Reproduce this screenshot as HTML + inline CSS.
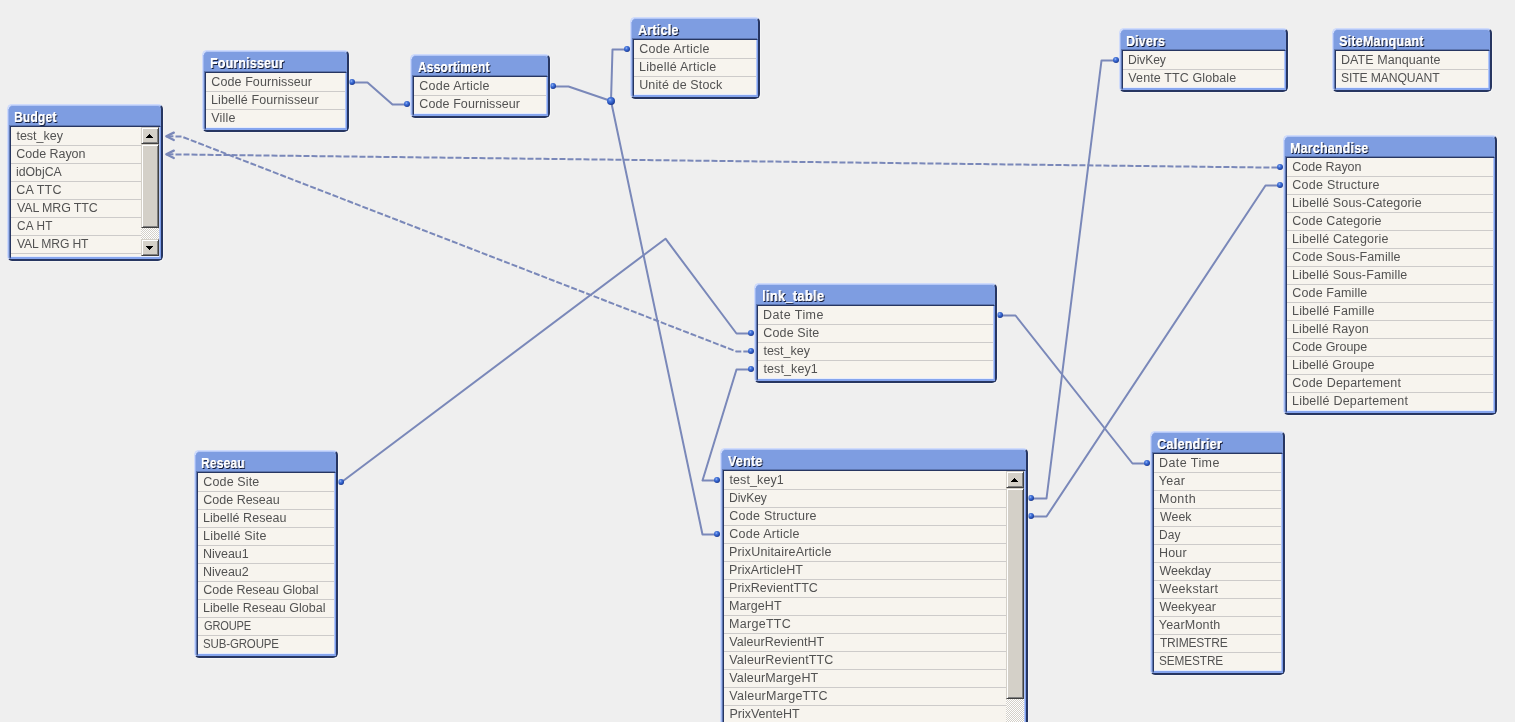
<!DOCTYPE html>
<html><head><meta charset="utf-8"><title>Table Viewer</title>
<style>
html,body{margin:0;padding:0}
html{overflow:hidden;width:1515px;height:722px}
body{width:1515px;height:722px;overflow:hidden;background:#efefef;position:relative;font-family:"Liberation Sans",sans-serif}
.b{position:absolute;box-sizing:border-box;background:#7e9de1;border:2px solid;border-color:#cfdbfb #273661 #273661 #cfdbfb;border-radius:5px;box-shadow:1px 1px 0 rgba(255,255,255,.4)}
.b::before{content:"";position:absolute;left:-1px;top:3px;bottom:1px;width:1px;background:#9fb6ef}
.b::after{content:"";position:absolute;left:2px;top:-1px;right:0;height:1px;background:#b4c7f6}
.t{position:absolute;left:5.5px;top:3.2px;height:16px;line-height:16px;white-space:nowrap;color:#fff;font-weight:bold;font-size:14px;letter-spacing:.3px;text-shadow:.2px 0 0 #fff,1px 1px 0 #141c38,1.3px 1px 0 #141c38;transform:scaleX(.9);transform-origin:0 0;will-change:transform}
.c{position:absolute;left:1px;top:20px;right:0;bottom:0;box-sizing:border-box;border-style:solid;border-width:1px 1px 2px 1px;border-color:#273661 #7c9deb #86a5ee #273661;background:#f7f4ee;overflow:hidden;padding-top:1px;box-shadow:inset -1px 0 0 #b4c7f7,inset 0 -1px 0 #e6ecfc}
.e{position:absolute;left:0;top:19px;right:1px;bottom:1px;border-left:1px solid rgba(39,54,97,.38);border-top:1px solid rgba(39,54,97,.38)}
.r{height:17px;line-height:17px;border-bottom:1px solid #cdcbca;padding-left:5.4px;margin-right:1px;font-size:12.5px;color:#525252;white-space:nowrap;letter-spacing:.1px;will-change:transform}
.r span{display:inline-block;transform-origin:0 50%}
.r:last-child{border-bottom-color:transparent}
.sb{position:absolute;right:1px;top:0;bottom:1px;width:18px;background:#e9e7e3;background-image:conic-gradient(#fff 25%,#d4d0c8 0 50%,#fff 0 75%,#d4d0c8 0);background-size:2px 2px}
.btn{position:absolute;left:0;width:18px;height:17px;box-sizing:border-box;background:#d4d0c8;border:1px solid;border-color:#d4d0c8 #404040 #404040 #d4d0c8;box-shadow:inset 1px 1px 0 #fff,inset -1px -1px 0 #808080}
.btn svg{position:absolute;left:4px;top:6px}
svg{position:absolute;left:0;top:0}
#w{position:absolute;left:0;top:0;width:1515px;height:722px;overflow:hidden;contain:paint}
</style></head><body><div id="w">
<svg width="1515" height="722" viewBox="0 0 1515 722" fill="none" stroke="#7a88b9" stroke-width="2" stroke-linejoin="round">
<defs><radialGradient id="g" cx="38%" cy="34%" r="68%"><stop offset="0" stop-color="#b4cdfc"/><stop offset=".22" stop-color="#5683e2"/><stop offset=".6" stop-color="#2f5ec8"/><stop offset="1" stop-color="#1b378c"/></radialGradient></defs>
<path d="M352 82.5 L367.5 82.5 L392.5 104.5 L407 104.5"/>
<path d="M553 86.5 L568.5 86.5 L611 101"/>
<path d="M611 101 L612.5 49.5 L627 49.5"/>
<path d="M611 101 L702.5 534.5 L717 534.5"/>
<path d="M341 482.5 L665.5 238.7 L736.5 333.5 L751 333.5"/>
<path d="M751 369.5 L736.5 369.5 L702.5 480.5 L717 480.5"/>
<path d="M1000 315.5 L1015.5 315.5 L1132.5 463.5 L1147 463.5"/>
<path d="M1031 498.5 L1046.5 498.5 L1101.5 60.5 L1116 60.5"/>
<path d="M1031 516.5 L1046.5 516.5 L1265.5 185.5 L1280 185.5"/>
<path d="M175.5 136.5 L181.5 136.5 L736.5 351.5 L751 351.5" stroke-dasharray="6 2"/>
<path d="M175.5 154.5 L181.5 154.5 L1265.5 167.5 L1280 167.5" stroke-dasharray="6 2"/>
<path d="M173.8 132.6 L166.3 136.3 L173.8 140" stroke-width="2.3" stroke-linejoin="round" stroke-linecap="round"/>
<path d="M166 136.3 L173.4 136.3" stroke-width="2"/>
<path d="M173.8 150.6 L166.3 154.3 L173.8 158" stroke-width="2.3" stroke-linejoin="round" stroke-linecap="round"/>
<path d="M166 154.3 L173.4 154.3" stroke-width="2"/>
<circle cx="352" cy="82" r="3" fill="url(#g)" stroke="none"/>
<circle cx="407" cy="104" r="3" fill="url(#g)" stroke="none"/>
<circle cx="553" cy="86" r="3" fill="url(#g)" stroke="none"/>
<circle cx="627" cy="49" r="3" fill="url(#g)" stroke="none"/>
<circle cx="717" cy="534" r="3" fill="url(#g)" stroke="none"/>
<circle cx="341" cy="482" r="3" fill="url(#g)" stroke="none"/>
<circle cx="751" cy="333" r="3" fill="url(#g)" stroke="none"/>
<circle cx="751" cy="369" r="3" fill="url(#g)" stroke="none"/>
<circle cx="717" cy="480" r="3" fill="url(#g)" stroke="none"/>
<circle cx="1000" cy="315" r="3" fill="url(#g)" stroke="none"/>
<circle cx="1147" cy="463" r="3" fill="url(#g)" stroke="none"/>
<circle cx="1031" cy="498" r="3" fill="url(#g)" stroke="none"/>
<circle cx="1116" cy="60" r="3" fill="url(#g)" stroke="none"/>
<circle cx="1031" cy="516" r="3" fill="url(#g)" stroke="none"/>
<circle cx="1280" cy="185" r="3" fill="url(#g)" stroke="none"/>
<circle cx="751" cy="351" r="3" fill="url(#g)" stroke="none"/>
<circle cx="1280" cy="167" r="3" fill="url(#g)" stroke="none"/>
<circle cx="611" cy="101" r="4" fill="url(#g)" stroke="none"/>
</svg>
<div class="b" style="left:7px;top:104px;width:156px;height:157px"><div class="t" style="left:5px;transform:scaleX(0.8514)">Budget</div><div class="e"></div><div class="c">
<div class="r"><span style="letter-spacing:-0.015px;margin-left:0.09px">test_key</span></div>
<div class="r"><span style="letter-spacing:-0.04px;margin-left:-0.04px">Code Rayon</span></div>
<div class="r"><span style="letter-spacing:-0.002px;margin-left:-0.48px;transform:scaleX(0.982)">idObjCA</span></div>
<div class="r"><span style="letter-spacing:0.168px;margin-left:-0.04px">CA TTC</span></div>
<div class="r"><span style="letter-spacing:-0.132px;margin-left:0.24px;transform:scaleX(0.995)">VAL MRG TTC</span></div>
<div class="r"><span style="letter-spacing:0.196px;margin-left:0.12px;transform:scaleX(0.944)">CA HT</span></div>
<div class="r"><span style="letter-spacing:-0.161px;margin-left:0.24px;transform:scaleX(0.972)">VAL MRG HT</span></div>
<div class="r">&nbsp;</div>
<div class="sb"><div class="btn up" style="top:0"><svg width="7" height="4" shape-rendering="crispEdges"><path fill="#000" stroke="none" d="M3 0h1v1h1v1h1v1h1v1h-7v-1h1v-1h1v-1h1z"/></svg></div><div class="btn" style="top:17px;height:84px"></div>
<div class="btn dn" style="top:112px"><svg width="7" height="4" shape-rendering="crispEdges"><path fill="#000" stroke="none" d="M0 0h7v1h-1v1h-1v1h-1v1h-1v-1h-1v-1h-1v-1h-1z"/></svg></div>
</div>
</div></div>
<div class="b" style="left:202px;top:50px;width:147px;height:82px"><div class="t" style="left:5.7px;transform:scaleX(0.8774)">Fournisseur</div><div class="e"></div><div class="c">
<div class="r"><span style="letter-spacing:0.083px;margin-left:-0.04px">Code Fournisseur</span></div>
<div class="r"><span style="letter-spacing:0.108px;margin-left:-0.4px">Libellé Fournisseur</span></div>
<div class="r"><span style="letter-spacing:0.196px;margin-left:-0.08px">Ville</span></div>
</div></div>
<div class="b" style="left:410px;top:54px;width:140px;height:64px"><div class="t" style="left:6.2px;transform:scaleX(0.8435)">Assortiment</div><div class="e"></div><div class="c">
<div class="r"><span style="letter-spacing:0.235px;margin-left:-0.04px">Code Article</span></div>
<div class="r"><span style="letter-spacing:0.083px;margin-left:-0.04px">Code Fournisseur</span></div>
</div></div>
<div class="b" style="left:630px;top:17px;width:130px;height:82px"><div class="t" style="left:5.7px;transform:scaleX(0.8877)">Article</div><div class="e"></div><div class="c">
<div class="r"><span style="letter-spacing:0.235px;margin-left:-0.04px">Code Article</span></div>
<div class="r"><span style="letter-spacing:0.259px;margin-left:-0.4px">Libellé Article</span></div>
<div class="r"><span style="letter-spacing:0.129px;margin-left:-0.24px">Unité de Stock</span></div>
</div></div>
<div class="b" style="left:1119px;top:28px;width:169px;height:64px"><div class="t" style="left:5px;transform:scaleX(0.8747)">Divers</div><div class="e"></div><div class="c">
<div class="r"><span style="letter-spacing:-0.127px;margin-left:-0.48px;transform:scaleX(0.972)">DivKey</span></div>
<div class="r"><span style="letter-spacing:0.111px;margin-left:-0.08px">Vente TTC Globale</span></div>
</div></div>
<div class="b" style="left:1332px;top:28px;width:160px;height:64px"><div class="t" style="left:4.9px;transform:scaleX(0.8871)">SiteManquant</div><div class="e"></div><div class="c">
<div class="r"><span style="letter-spacing:0.074px;margin-left:-0.4px">DATE Manquante</span></div>
<div class="r"><span style="letter-spacing:-0.141px;margin-left:-0.48px;transform:scaleX(0.976)">SITE MANQUANT</span></div>
</div></div>
<div class="b" style="left:1283px;top:135px;width:214px;height:280px"><div class="t" style="left:5.3px;transform:scaleX(0.8823)">Marchandise</div><div class="e"></div><div class="c">
<div class="r"><span style="letter-spacing:-0.04px;margin-left:-0.04px">Code Rayon</span></div>
<div class="r"><span style="letter-spacing:0.235px;margin-left:-0.04px">Code Structure</span></div>
<div class="r"><span style="letter-spacing:0.154px;margin-left:-0.4px">Libellé Sous-Categorie</span></div>
<div class="r"><span style="letter-spacing:0.123px;margin-left:-0.04px">Code Categorie</span></div>
<div class="r"><span style="letter-spacing:0.158px;margin-left:-0.4px">Libellé Categorie</span></div>
<div class="r"><span style="letter-spacing:0.116px;margin-left:-0.04px">Code Sous-Famille</span></div>
<div class="r"><span style="letter-spacing:0.144px;margin-left:-0.4px">Libellé Sous-Famille</span></div>
<div class="r"><span style="letter-spacing:0.113px;margin-left:-0.04px">Code Famille</span></div>
<div class="r"><span style="letter-spacing:0.189px;margin-left:-0.4px">Libellé Famille</span></div>
<div class="r"><span style="letter-spacing:0.073px;margin-left:-0.4px">Libellé Rayon</span></div>
<div class="r"><span style="letter-spacing:-0.017px;margin-left:-0.04px">Code Groupe</span></div>
<div class="r"><span style="letter-spacing:0.092px;margin-left:-0.4px">Libellé Groupe</span></div>
<div class="r"><span style="letter-spacing:0.194px;margin-left:-0.04px">Code Departement</span></div>
<div class="r"><span style="letter-spacing:0.224px;margin-left:-0.4px">Libellé Departement</span></div>
</div></div>
<div class="b" style="left:754px;top:283px;width:243px;height:100px"><div class="t" style="left:5.7px;transform:scaleX(0.9213)">link_table</div><div class="e"></div><div class="c">
<div class="r"><span style="letter-spacing:0.428px;margin-left:-0.4px">Date Time</span></div>
<div class="r"><span style="letter-spacing:0.121px;margin-left:-0.04px">Code Site</span></div>
<div class="r"><span style="letter-spacing:-0.015px;margin-left:0.09px">test_key</span></div>
<div class="r"><span style="letter-spacing:0.094px;margin-left:0.09px">test_key1</span></div>
</div></div>
<div class="b" style="left:194px;top:450px;width:144px;height:208px"><div class="t" style="left:5px;transform:scaleX(0.8488)">Reseau</div><div class="e"></div><div class="c">
<div class="r"><span style="letter-spacing:0.121px;margin-left:-0.04px">Code Site</span></div>
<div class="r"><span style="letter-spacing:-0.018px;margin-left:-0.04px">Code Reseau</span></div>
<div class="r"><span style="letter-spacing:0.059px;margin-left:-0.4px">Libellé Reseau</span></div>
<div class="r"><span style="letter-spacing:0.204px;margin-left:-0.4px">Libellé Site</span></div>
<div class="r"><span style="letter-spacing:-0.029px;margin-left:-0.4px">Niveau1</span></div>
<div class="r"><span style="letter-spacing:-0.021px;margin-left:-0.4px">Niveau2</span></div>
<div class="r"><span style="letter-spacing:-0.051px;margin-left:-0.04px">Code Reseau Global</span></div>
<div class="r"><span style="letter-spacing:0.007px;margin-left:-0.4px">Libelle Reseau Global</span></div>
<div class="r"><span style="letter-spacing:-0.18px;margin-left:0.28px;transform:scaleX(0.887)">GROUPE</span></div>
<div class="r"><span style="letter-spacing:-0.155px;margin-left:-0.48px;transform:scaleX(0.92)">SUB-GROUPE</span></div>
</div></div>
<div class="b" style="left:720px;top:448px;width:308px;height:300px"><div class="t" style="left:6.4px;transform:scaleX(0.8882)">Vente</div><div class="e"></div><div class="c">
<div class="r"><span style="letter-spacing:0.094px;margin-left:0.09px">test_key1</span></div>
<div class="r"><span style="letter-spacing:-0.127px;margin-left:-0.48px;transform:scaleX(0.972)">DivKey</span></div>
<div class="r"><span style="letter-spacing:0.235px;margin-left:-0.04px">Code Structure</span></div>
<div class="r"><span style="letter-spacing:0.235px;margin-left:-0.04px">Code Article</span></div>
<div class="r"><span style="letter-spacing:0.169px;margin-left:-0.4px">PrixUnitaireArticle</span></div>
<div class="r"><span style="letter-spacing:0.083px;margin-left:-0.4px">PrixArticleHT</span></div>
<div class="r"><span style="letter-spacing:0.052px;margin-left:-0.4px">PrixRevientTTC</span></div>
<div class="r"><span style="letter-spacing:0.077px;margin-left:-0.4px">MargeHT</span></div>
<div class="r"><span style="letter-spacing:0.295px;margin-left:-0.4px">MargeTTC</span></div>
<div class="r"><span style="letter-spacing:0.04px;margin-left:-0.08px">ValeurRevientHT</span></div>
<div class="r"><span style="letter-spacing:0.142px;margin-left:-0.08px">ValeurRevientTTC</span></div>
<div class="r"><span style="letter-spacing:0.13px;margin-left:-0.08px">ValeurMargeHT</span></div>
<div class="r"><span style="letter-spacing:0.243px;margin-left:-0.08px">ValeurMargeTTC</span></div>
<div class="r"><span style="letter-spacing:-0px;margin-left:0px">PrixVenteHT</span></div>
<div class="r"><span style="letter-spacing:0.07px;margin-left:0px">PrixVenteTTC</span></div>
<div class="sb"><div class="btn up" style="top:0"><svg width="7" height="4" shape-rendering="crispEdges"><path fill="#000" stroke="none" d="M3 0h1v1h1v1h1v1h1v1h-7v-1h1v-1h1v-1h1z"/></svg></div><div class="btn" style="top:17px;height:211px"></div>
</div>
</div></div>
<div class="b" style="left:1150px;top:431px;width:135px;height:244px"><div class="t" style="left:5.4px;transform:scaleX(0.8999)">Calendrier</div><div class="e"></div><div class="c">
<div class="r"><span style="letter-spacing:0.428px;margin-left:-0.4px">Date Time</span></div>
<div class="r"><span style="letter-spacing:0.231px;margin-left:-0.54px">Year</span></div>
<div class="r"><span style="letter-spacing:0.502px;margin-left:-0.4px">Month</span></div>
<div class="r"><span style="letter-spacing:0.058px;margin-left:0.44px;transform:scaleX(0.988)">Week</span></div>
<div class="r"><span style="letter-spacing:0.16px;margin-left:-0.48px;transform:scaleX(0.954)">Day</span></div>
<div class="r"><span style="letter-spacing:0.152px;margin-left:-0.4px">Hour</span></div>
<div class="r"><span style="letter-spacing:-0.068px;margin-left:0.14px">Weekday</span></div>
<div class="r"><span style="letter-spacing:0.292px;margin-left:0.14px">Weekstart</span></div>
<div class="r"><span style="letter-spacing:0.037px;margin-left:0.14px">Weekyear</span></div>
<div class="r"><span style="letter-spacing:0.176px;margin-left:-0.54px">YearMonth</span></div>
<div class="r"><span style="letter-spacing:-0.254px;margin-left:0.6px;transform:scaleX(0.964)">TRIMESTRE</span></div>
<div class="r"><span style="letter-spacing:-0.119px;margin-left:-0.48px;transform:scaleX(0.945)">SEMESTRE</span></div>
</div></div>
</div></body></html>
